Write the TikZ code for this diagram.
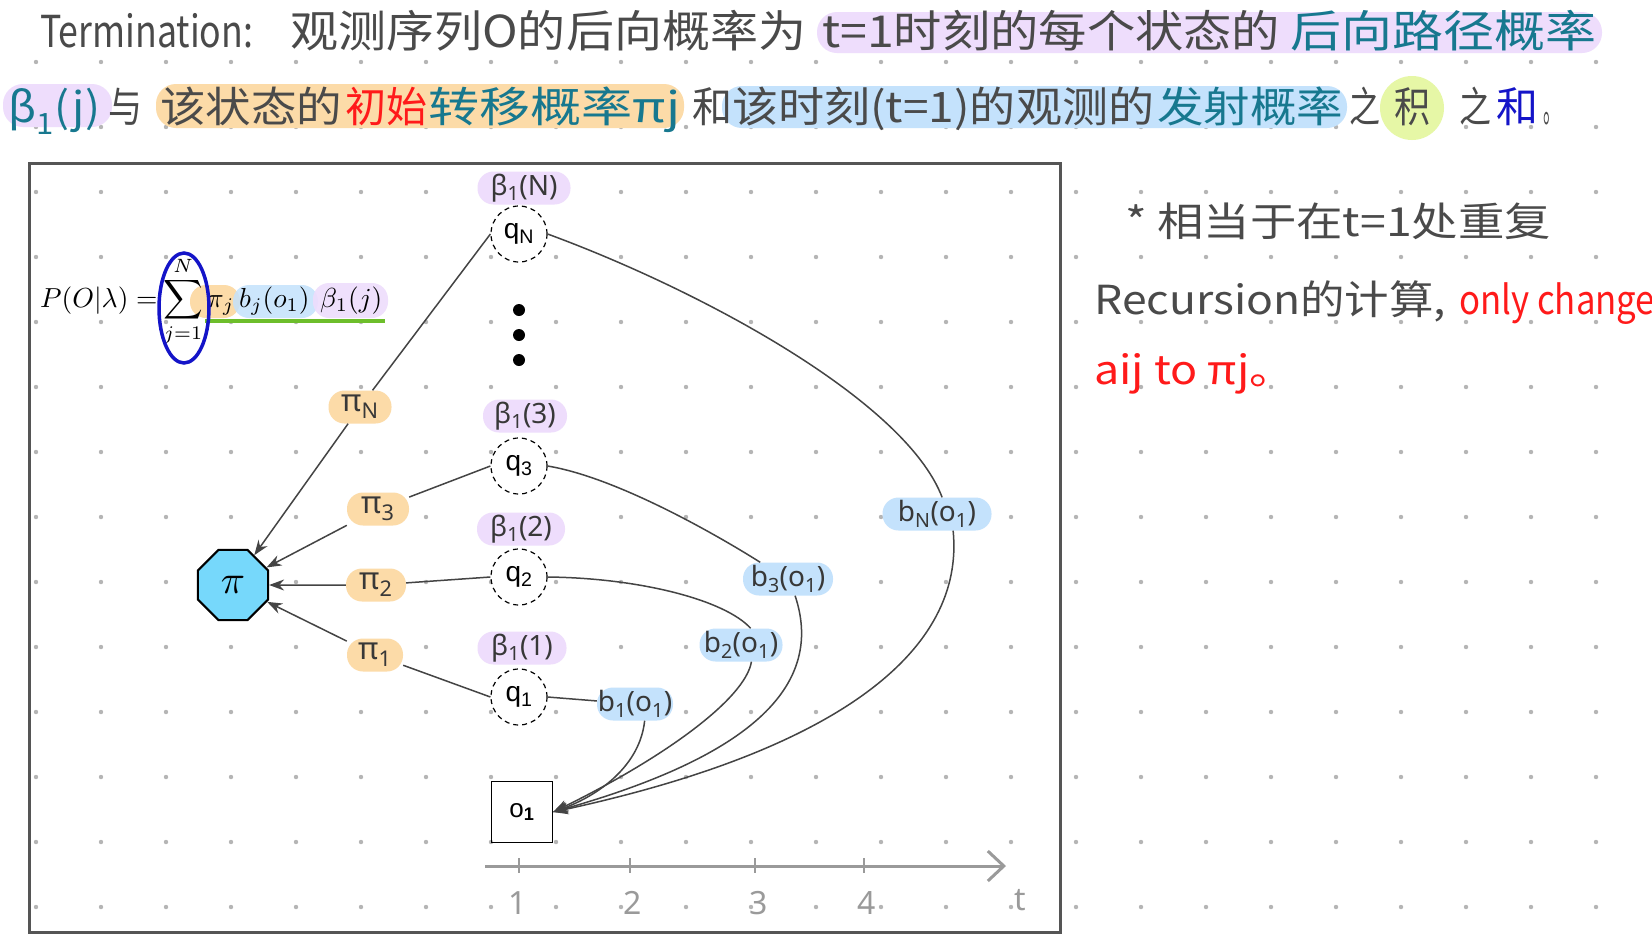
\documentclass[tikz,border=0pt]{standalone}
\usepackage{fontspec}
\usepackage{graphicx}
\usetikzlibrary{arrows.meta,shapes.geometric,calc}
\newfontfamily\cjk{Noto Sans CJK SC}
\newfontfamily\hand{Noto Sans}
\newfontfamily\arialf{Liberation Sans}
\definecolor{txt}{HTML}{4A4A4A}
\definecolor{hteal}{HTML}{17788F}
\definecolor{hpurple}{HTML}{EEDDFC}
\definecolor{horange}{HTML}{FCDBA8}
\definecolor{hblue}{HTML}{C4E2FC}
\definecolor{hgreen}{HTML}{E6F7A6}
\definecolor{hred}{HTML}{FF1A1A}
\definecolor{hdblue}{HTML}{1414C8}
\definecolor{octfill}{HTML}{76D8FB}
\definecolor{edgec}{HTML}{444444}
\definecolor{dotc}{HTML}{B5B5B5}
\definecolor{framec}{HTML}{555555}
\definecolor{axisc}{HTML}{9A9A9A}
\definecolor{ulgreen}{HTML}{6DBE2B}
\newcommand\fitto[2]{\resizebox{#1pt}{\height}{#2}}
\newcommand\mbig[1]{\scalebox{2.75}{#1}}
\begin{document}
\begin{tikzpicture}[x=1pt,y=-1pt,
  hdr/.style={anchor=base west, inner sep=0pt, font=\cjk\fontsize{44}{50}\selectfont, text=txt},
  hdrb/.style={hdr, font=\cjk\fontsize{42}{48}\selectfont},
  fml/.style={anchor=base west, inner sep=0pt},
  st/.style={circle, draw=black, dash pattern=on 5pt off 4pt, line width=1.2pt, minimum size=56pt, inner sep=0pt, fill=white, font=\arialf\fontsize{28}{30}\selectfont},
  lab/.style={rounded corners=16pt, inner sep=0pt, minimum height=33pt, font=\hand\fontsize{28}{30}\selectfont, text=black!78},
  blab/.style={lab, fill=hblue},
  plab/.style={lab, fill=hpurple},
  olab/.style={lab, fill=horange, font=\hand\fontsize{31}{32}\selectfont},
  arr/.style={draw=edgec, line width=1.5pt, -{Stealth[length=15pt,width=11pt]}},
  ln/.style={draw=edgec, line width=1.5pt},
  hl/.style={rounded corners=20pt},
  tlab/.style={font=\hand\fontsize{32}{34}\selectfont, text=axisc, inner sep=0pt}
]
\useasboundingbox (0,0) rectangle (1652,938);
\fill[white] (0,0) rectangle (1652,938);
% dot grid
\foreach \i in {0,...,24}{\foreach \j in {0,...,13}{\fill[dotc] (36+65*\i,62+65*\j) circle (2.2pt);}}
% frame
\draw[line width=3pt, framec] (29.5,163) rectangle (1060,932);

% ---------- header highlights ----------
\fill[hpurple, hl] (817,12) rectangle (1602,53);
\fill[hpurple, hl] (3,84) rectangle (112,127);
\fill[horange, hl] (156,84) rectangle (684,128);
\fill[hblue, hl] (722,86) rectangle (1347,128);
\fill[hgreen] (1412,108) circle (32pt);

% ---------- header line 1 ----------
\node[hdr] (h1a) at (40,47) {\fitto{213}{Termination:}};
\node[hdr] (h1b) at (290,47) {\fitto{516}{观测序列O的后向概率为}};
\node[hdr] (h1c) at (822,47) {\fitto{458}{t=1时刻的每个状态的}};
\node[hdr, text=hteal] (h1d) at (1290,47) {\fitto{306}{后向路径概率}};

% ---------- header line 2 ----------
\node[hdrb, text=hteal] (h2a) at (8,122) {\fitto{92}{β\textsubscript{1}(j)}};
\node[hdrb] (h2b) at (108,122) {\fitto{34}{与}};
\node[hdrb] (h2c) at (160,122) {\fitto{182}{该状态的}};
\node[hdrb, text=hred] (h2d) at (345,122) {\fitto{82}{初始}};
\node[hdrb, text=hteal] (h2e) at (428,122) {\fitto{252}{转移概率πj}};
\node[hdrb] (h2f) at (692,122) {\fitto{40}{和}};
\node[hdrb] (h2g) at (732,122) {\fitto{422}{该时刻(t=1)的观测的}};
\node[hdrb, text=hteal] (h2h) at (1157,122) {\fitto{186}{发射概率}};
\node[hdrb] (h2i) at (1349,122) {\fitto{31}{之}};
\node[hdrb] (h2j) at (1394,122) {\fitto{36}{积}};
\node[hdrb] (h2k) at (1459,122) {\fitto{32}{之}};
\node[hdrb, text=hdblue] (h2l) at (1496,122) {\fitto{42}{和}};
\node[hdrb] (h2m) at (1543,122) {\fitto{17}{。}};

% ---------- formula ----------
\fill[horange, rounded corners=16pt] (190,285) rectangle (240,318);
\fill[hblue, opacity=0.85, rounded corners=16pt] (233,285) rectangle (318,318);
\fill[hpurple, opacity=0.9, rounded corners=16pt] (313,283) rectangle (388,318);
\draw[ulgreen, line width=3.5pt] (205,321) -- (385,321);
\node[fml] (fP) at (40,307) {\mbig{$P(O|\lambda)=$}};
\node[fml, anchor=base] (fS) at (183,307) {\mbig{$\displaystyle\sum_{j=1}^{N}$}};
\node[fml] (fpi) at (207,307) {\mbig{$\pi_j$}};
\node[fml] (fb) at (239,307) {\mbig{$b_j(o_1)$}};
\node[fml] (fbeta) at (320,307) {\mbig{$\beta_1(j)$}};
\draw[line width=3.5pt, hdblue] (184,308) ellipse [x radius=25pt, y radius=55pt];

% ---------- graph ----------
\node[regular polygon, regular polygon sides=8, draw=black, line width=2pt, fill=octfill, minimum size=76pt, inner sep=0pt] (pi) at (233,585) {\scalebox{4}{$\pi$}};

\node[st] (qN) at (519,234) {q\textsubscript{N}};
\node[st] (q3) at (519,466) {q\textsubscript{3}};
\node[st] (q2) at (519,577) {q\textsubscript{2}};
\node[st] (q1) at (519,697) {q\textsubscript{1}};
\node[circle, fill=black, minimum size=12pt, inner sep=0pt] (dA) at (519,310) {};
\node[circle, fill=black, minimum size=12pt, inner sep=0pt] (dB) at (519,335) {};
\node[circle, fill=black, minimum size=12pt, inner sep=0pt] (dC) at (519,360) {};

\node[plab, minimum width=93pt] (bbN) at (524,188) {β\textsubscript{1}(N)};
\node[plab, minimum width=84pt] (bb3) at (525,416) {β\textsubscript{1}(3)};
\node[plab, minimum width=88pt] (bb2) at (521,529) {β\textsubscript{1}(2)};
\node[plab, minimum width=89pt] (bb1) at (522,648) {β\textsubscript{1}(1)};

\node[olab, minimum width=63pt] (piN) at (360,407) {π\textsubscript{N}};
\node[olab, minimum width=62pt] (pi3) at (378,509) {π\textsubscript{3}};
\node[olab, minimum width=60pt] (pi2) at (376,585) {π\textsubscript{2}};
\node[olab, minimum width=56pt] (pi1) at (375,655) {π\textsubscript{1}};

\node[blab, minimum width=76pt] (e1) at (635,704) {b\textsubscript{1}(o\textsubscript{1})};
\node[blab, minimum width=83pt] (e2) at (741,645) {b\textsubscript{2}(o\textsubscript{1})};
\node[blab, minimum width=90pt] (e3) at (788,579) {b\textsubscript{3}(o\textsubscript{1})};
\node[blab, minimum width=109pt] (eN) at (937,514) {b\textsubscript{N}(o\textsubscript{1})};

\node[draw=black, line width=1.2pt, minimum size=61pt, inner sep=0pt, font=\arialf\fontsize{26}{28}\selectfont] (o1) at (522,812) {o\textsubscript{\textbf{1}}};

% initial edges
\draw[ln] (qN.west) -- (piN);
\draw[arr] (piN) -- (pi);
\draw[ln] (q3.west) -- (pi3);
\draw[arr] (pi3) -- (pi);
\draw[ln] (q2.west) -- (pi2);
\draw[arr] (pi2) -- (pi);
\draw[ln] (q1.west) -- (pi1);
\draw[arr] (pi1) -- (pi);

% emission edges
\draw[ln] (qN.east) .. controls (700,290) and (905,400) .. (eN.73);
\draw[arr] (eN.-46) .. controls (965,650) and (840,750) .. (o1.east);
\draw[ln] (q3.east) .. controls (620,478) and (725,540) .. (e3.149);
\draw[arr] (e3.-67) .. controls (830,700) and (720,765) .. (o1.east);
\draw[ln] (q2.east) .. controls (640,578) and (725,600) .. (e2.60);
\draw[arr] (e2.-58) .. controls (745,700) and (660,760) .. (o1.east);
\draw[ln] (q1.east) -- (e1);
\draw[arr] (e1.-60) .. controls (640,765) and (600,795) .. (o1.east);

% time axis
\coordinate (ax0) at (485,866);
\coordinate (ax1) at (1006,866);
\draw[line width=3pt, axisc, -{Straight Barb[length=16pt,width=30pt]}] (ax0) -- (ax1);
\foreach \x in {519,630,755,864}{\draw[axisc, line width=2pt] (\x,858) -- (\x,873);}
\node[tlab] (t1) at (518,903) {1};
\node[tlab] (t2) at (633,903) {2};
\node[tlab] (t3) at (759,903) {3};
\node[tlab] (t4) at (867,903) {4};
\node[tlab] (tt) at (1020,900) {t};

% right notes
\node[hdr, font=\cjk\fontsize{40}{44}\selectfont] (n1) at (1125,236) {\fitto{426}{* 相当于在t=1处重复}};
\node[hdr, font=\cjk\fontsize{40}{44}\selectfont] (n2) at (1094,314) {\fitto{352}{Recursion的计算,}};
\node[hdr, font=\cjk\fontsize{40}{44}\selectfont, text=hred] (n3) at (1459,314) {\fitto{196}{only change}};
\node[hdr, font=\cjk\fontsize{40}{44}\selectfont, text=hred] (n4) at (1094,384) {\fitto{200}{aij to πj。}};
\end{tikzpicture}
\end{document}
